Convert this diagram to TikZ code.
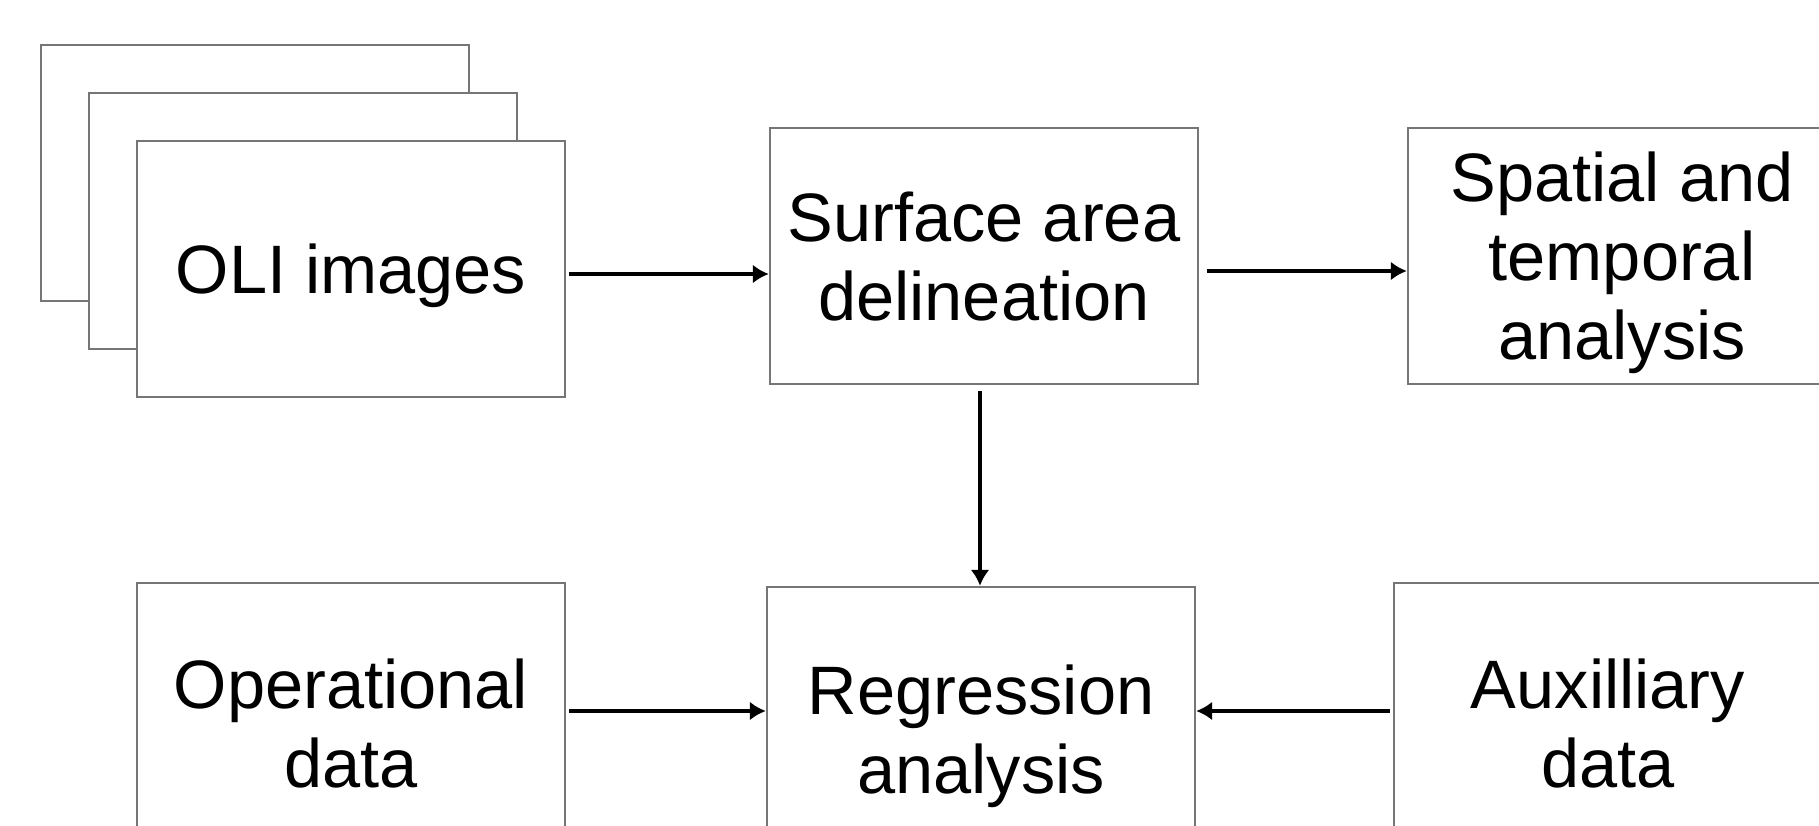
\documentclass[tikz,border=0pt]{standalone}
\usepackage{fontspec}
\setmainfont{Liberation Sans}
\usetikzlibrary{arrows.meta}
\definecolor{boxgray}{RGB}{118,118,118}

\begin{document}
\begin{tikzpicture}

      \useasboundingbox (0,0) rectangle (18.19,8.25);
      \clip (0,0) rectangle (18.19,8.25);

      \begin{scope}[every node/.style={draw=boxgray,line width=0.7pt,fill=white,
          minimum width=4.28cm,minimum height=2.56cm,inner sep=0pt,align=center,
          text depth=0pt,font=\fontsize{19.5}{22.5}\selectfont}]
        \node (back)  at (2.55,6.52) {};
        \node (mid)   at (3.03,6.04) {};
        \node (oli)   at (3.51,5.56) {OLI images};
        \node (surf)  at (9.84,5.69) {Surface area\\delineation};
        \node (spat)  at (16.22,5.69) {Spatial and\\temporal\\analysis};
        \node[minimum height=2.8cm] (oper)  at (3.51,1.02) {Operational\\data};
        \node[minimum height=2.84cm] (regr)  at (9.81,0.96) {Regression\\analysis};
        \node[minimum height=2.8cm] (aux)   at (16.08,1.02) {Auxilliary\\data};
      \end{scope}


      \begin{scope}[every edge/.style={draw,line width=1.25pt,-{Latex[length=1.6mm,width=1.9mm]}}]
        \path ([yshift=-0.5mm]oli.east)  edge[shorten <=0.3mm] ([yshift=-0.5mm]oli.east -| surf.west);
        \path ([yshift=-1.5mm]surf.east)  edge[shorten <=0.8mm] ([yshift=-1.5mm]spat.west);
        \path ([xshift=-0.4mm]surf.south)  edge[shorten <=0.6mm] ([xshift=-0.4mm]surf.south |- regr.north);
        \path ([yshift=1.2mm]oper.east)  edge[shorten <=0.3mm] ([yshift=1.2mm]oper.east -| regr.west);
        \path ([yshift=1.2mm]aux.west)  edge[shorten <=0.3mm] ([yshift=1.2mm]aux.west -| regr.east);
      \end{scope}

    \end{tikzpicture}
\end{document}
